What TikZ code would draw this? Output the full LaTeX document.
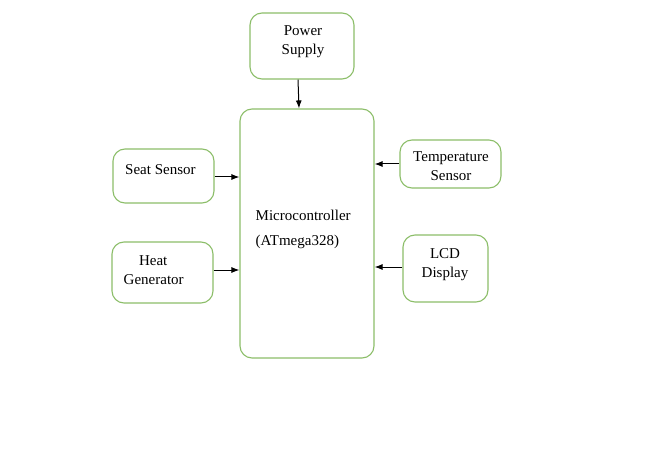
\documentclass[tikz,border=0pt]{standalone}
\usepackage{fontspec}
\setmainfont{Liberation Serif}
\usetikzlibrary{arrows.meta}
\definecolor{boxgreen}{RGB}{140,190,105}
\begin{document}
\begin{tikzpicture}[x=1pt,y=-1pt,
  blk/.style={draw=boxgreen,line width=1.1pt,rounded corners=12pt,fill=white,inner sep=0pt},
  lbl/.style={font=\fontsize{15}{19}\selectfont,align=center,inner sep=0pt},
  arr/.style={-{Latex[length=8pt,width=6pt]},line width=1pt,black}]
\useasboundingbox[fill=white] (0,0) rectangle (661,457);
% boxes
\node[blk,minimum width=104pt,minimum height=66pt] (ps) at (302,46) {};
\node[blk,minimum width=134pt,minimum height=249pt] (mc) at (307,233.5) {};
\node[blk,minimum width=101pt,minimum height=54pt] (ss) at (163.5,176) {};
\node[blk,minimum width=101pt,minimum height=61pt] (hg) at (162.5,272.5) {};
\node[blk,minimum width=101pt,minimum height=48pt] (ts) at (450.5,164) {};
\node[blk,minimum width=85pt,minimum height=67pt] (lcd) at (445.5,268.5) {};
% texts
\node[lbl] (pst) at (303,42) {Power\\Supply};
\node[lbl,anchor=west] (mct1) at (255.5,215.5) {Microcontroller};
\node[lbl,anchor=west] (mct2) at (255.5,242) {(ATmega328)};
\node[lbl,anchor=west] (sst) at (125,169.5) {Seat Sensor};
\node[lbl] (hgt) at (153.7,270) {\hspace*{-1pt}Heat\\Generator};
\node[lbl] (tst) at (451,166.5) {Temperature\\Sensor};
\node[lbl] (lcdt) at (445,264.5) {LCD\\Display};
% arrows
\draw[arr] (ps.south -| 298,0) -- (mc.north -| 299,0);
\draw[arr] (ss.east |- 0,177) -- (mc.west |- 0,177);
\draw[arr] (hg.east |- 0,270) -- (mc.west |- 0,270);
\draw[arr] (ts.west |- 0,164) -- (mc.east |- 0,164);
\draw[arr] (lcd.west |- 0,267) -- (mc.east |- 0,267);
\end{tikzpicture}
\end{document}
